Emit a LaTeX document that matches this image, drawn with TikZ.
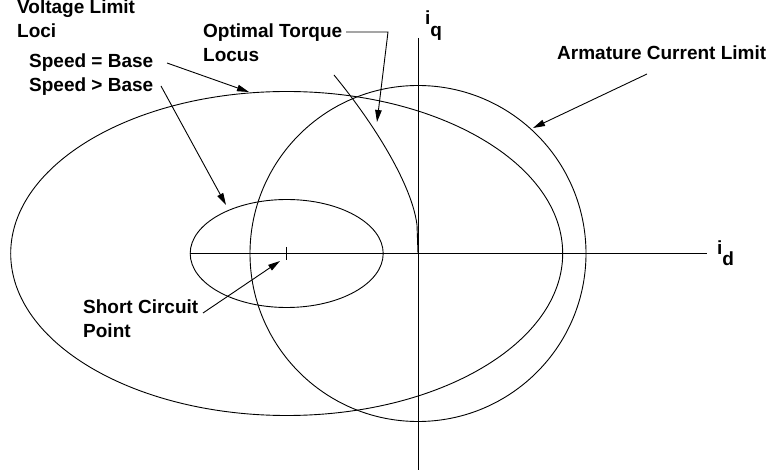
\documentclass[tikz,border=0pt]{standalone}
\usepackage{fontspec}
\setmainfont{Liberation Sans}
\usepackage{tikz}
\usetikzlibrary{arrows.meta}

\begin{document}
\begin{tikzpicture}[x=1pt,y=-1pt,
    curve/.style={line width=0.9pt},
    pointer/.style={line width=0.9pt,-{Triangle[length=12pt,width=6.5pt]}},
    lbl/.style={inner sep=0pt,anchor=base west,align=left,
                font=\bfseries\fontsize{19}{24.5}\selectfont}]
    \useasboundingbox (0,0) rectangle (772,473);

    % Origin of the d-q plane and the short circuit point
    \coordinate (O) at (418,253.5);
    \coordinate (sc) at (286.7,253.5);

    % Axes
    \draw[curve] (190,253.5) -- (707,253.5);
    \draw[curve] (418,38) -- (418,470);
    \node[lbl] (iq) at (425,25) {i\lower12pt\hbox{q}};
    \node[lbl] (id) at (717,255) {i\lower11pt\hbox{d}};

    % Armature current limit circle
    \draw[curve] (O) circle [radius=168pt];

    % Voltage limit ellipses, speed = base and speed > base
    \draw[curve] (sc) ellipse [x radius=276pt, y radius=162pt];
    \draw[curve] (sc) ellipse [x radius=96.5pt, y radius=54pt];
    \draw[curve] (286.7,247) -- (286.7,260); % short circuit mark

    % Optimal torque locus
    \draw[curve] (334,75) .. controls (375,125) and (412,185) .. (417,225) -- (O);

    % Labels (base is the last line)
    \node[lbl] (vl) at (17,38) {Voltage Limit\\Loci};
    \node[lbl] (sb) at (29,68) {Speed = Base};
    \node[lbl] (sa) at (29,92) {Speed > Base};
    \node[lbl] (ot) at (203,62) {Optimal Torque\\Locus};
    \node[lbl] (ac) at (557,60) {Armature Current Limit};
    \node[lbl] (sp) at (83,338) {Short Circuit\\Point};

    % Ends of the pointers
    \coordinate (sbtail) at (167,63);
    \coordinate (sbtip) at (249,92);
    \coordinate (satail) at (161,86);
    \coordinate (satip) at (226,205);
    \coordinate (ottail) at (346,32);
    \coordinate (otbend) at (388,32);
    \coordinate (ottip) at (377,122);
    \coordinate (actail) at (647,74);
    \coordinate (actip) at (533,128);
    \coordinate (sptail) at (203,313);
    \coordinate (sptip) at (280,261);

    % Pointers
    \draw[pointer] (sbtail) -- (sbtip);
    \draw[pointer] (satail) -- (satip);
    \draw[pointer] (ottail) -- (otbend) -- (ottip);
    \draw[pointer] (actail) -- (actip);
    \draw[pointer] (sptail) -- (sptip);
\end{tikzpicture}
\end{document}
